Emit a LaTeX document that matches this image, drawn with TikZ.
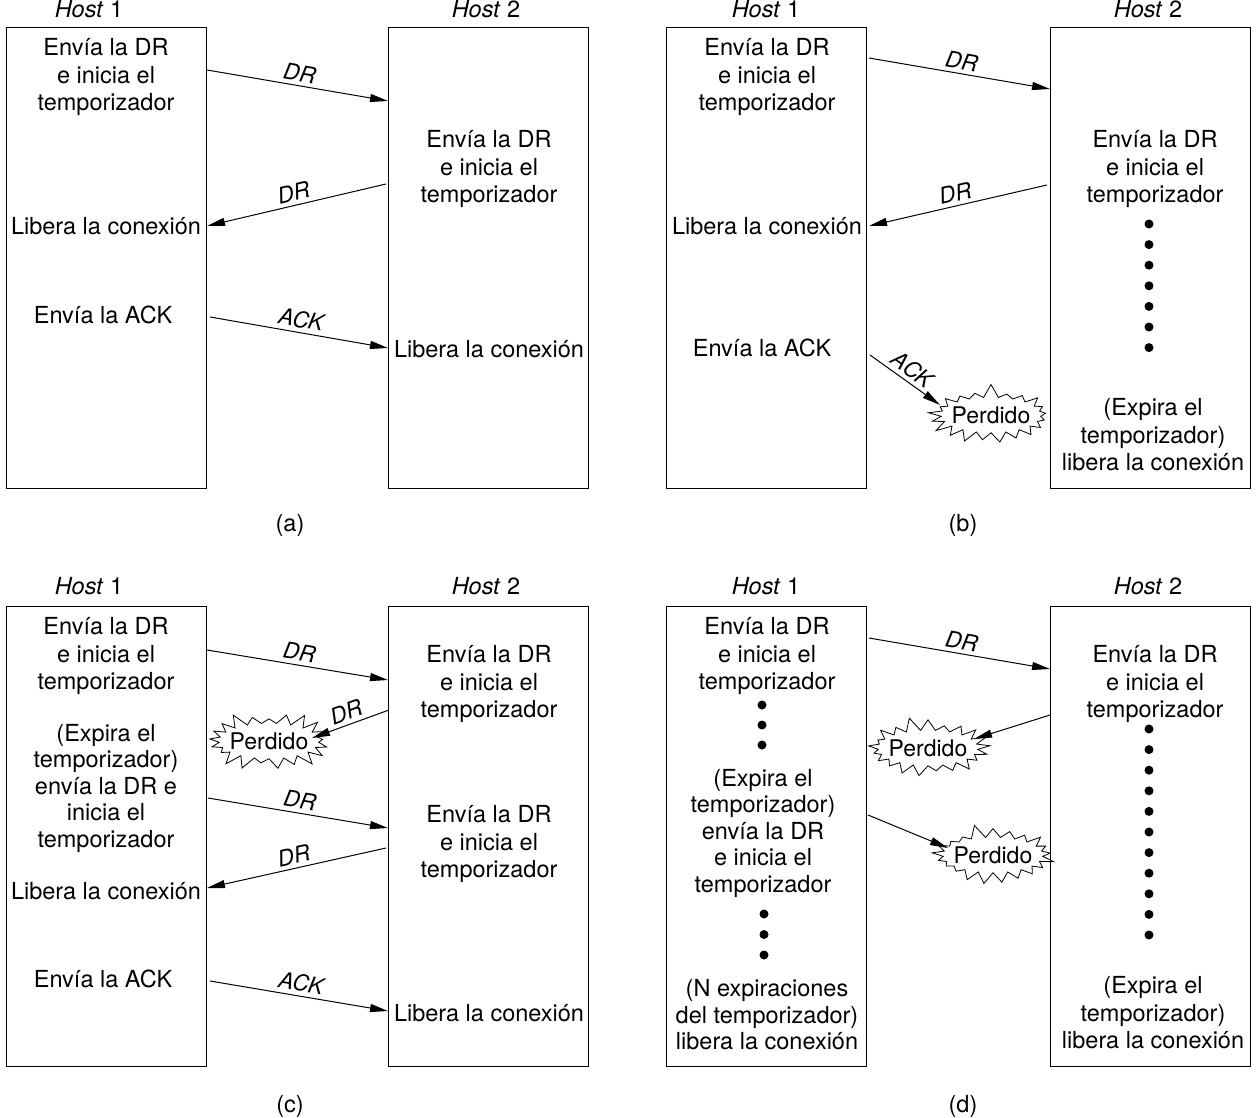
\documentclass[tikz,border=0pt]{standalone}
\usepackage{fontspec}
\setmainfont{TeX Gyre Heros}
\usetikzlibrary{arrows.meta,shapes.symbols}
\tikzset{
  host/.style={draw=black, line width=1pt, minimum width=200pt, minimum height=460pt, inner sep=0pt},
  msg/.style={draw=black, line width=1pt, -{Triangle[length=18pt,width=8pt]}},
  lab/.style={font=\fontsize{23.5}{27.5}\selectfont, align=center, inner sep=0pt, yshift=-2pt},
  tag/.style={font=\fontsize{22.5}{24}\selectfont\itshape, inner sep=4pt},
  lost/.style={starburst, draw=black, fill=white, line width=0.8pt, starburst points=21,
    starburst point height=14pt, random starburst=#1, inner xsep=-4pt, inner ysep=4pt,
    font=\fontsize{23}{24}\selectfont},
  dot/.style={circle, fill=black, inner sep=0pt, minimum size=9pt},
}
\begin{document}
\begin{tikzpicture}[x=1pt,y=-1pt]
  \useasboundingbox (0,0) rectangle (1258,1118);

  % (a)
  \node[host] (a1) at (106,258) {};
  \node[host] (a2) at (488.5,258) {};
  \node[lab] (a1h) at (89,7) {\textit{Host} 1};
  \node[lab] (a2h) at (486,7) {\textit{Host} 2};
  \node[lab] (a1t1) at (106,75) {Envía la DR\\e inicia el\\temporizador};
  \node[lab] (a1t2) at (106,224) {Libera la conexión};
  \node[lab] (a1t3) at (103,313) {Envía la ACK};
  \node[lab] (a2t1) at (489,167) {Envía la DR\\e inicia el\\temporizador};
  \node[lab] (a2t2) at (489,347) {Libera la conexión};
  \node[lab] (asub) at (290,523) {(a)};
  \coordinate (a1o1) at (207,70);  \coordinate (a2i1) at (388,101);
  \coordinate (a2o1) at (386,184); \coordinate (a1i1) at (207,226);
  \coordinate (a1o2) at (210,317); \coordinate (a2i2) at (388,348);
  \draw[msg] (a1o1) -- node[tag,sloped,above] {DR} (a2i1);
  \draw[msg] (a2o1) -- node[tag,sloped,above] {DR} (a1i1);
  \draw[msg] (a1o2) -- node[tag,sloped,above] {ACK} (a2i2);

  % (b)
  \node[host] (b1) at (766,258) {};
  \node[host] (b2) at (1150.5,258) {};
  \node[lab] (b1h) at (766,7) {\textit{Host} 1};
  \node[lab] (b2h) at (1148,7) {\textit{Host} 2};
  \node[lab] (b1t1) at (767,75) {Envía la DR\\e inicia el\\temporizador};
  \node[lab] (b1t2) at (767,224) {Libera la conexión};
  \node[lab] (b1t3) at (762,346) {Envía la ACK};
  \node[lab] (b2t1) at (1155,167) {Envía la DR\\e inicia el\\temporizador};
  \foreach \k in {0,...,6}
    \node[dot] (b2d\k) at (1149,224+20.6*\k) {};
  \node[lab] (b2t2) at (1153,433) {(Expira el\\temporizador)\\libera la conexión};
  \node[lab] (bsub) at (963,523) {(b)};
  \node[lost=7] (blost) at (991,415) {Perdido};
  \coordinate (b1o1) at (869,58);  \coordinate (b2i1) at (1050,89);
  \coordinate (b2o1) at (1047,185); \coordinate (b1i1) at (869,226);
  \coordinate (b1o2) at (870,355); \coordinate (blostin) at (940,405);
  \draw[msg] (b1o1) -- node[tag,sloped,above] {DR} (b2i1);
  \draw[msg] (b2o1) -- node[tag,sloped,above] {DR} (b1i1);
  \draw[msg] (b1o2) -- node[tag,sloped,above] {ACK} (blostin);

  % (c)
  \node[host] (c1) at (106,836.5) {};
  \node[host] (c2) at (488.5,836.5) {};
  \node[lab] (c1h) at (89,584) {\textit{Host} 1};
  \node[lab] (c2h) at (486,584) {\textit{Host} 2};
  \node[lab] (c1t1) at (106,654) {Envía la DR\\e inicia el\\temporizador};
  \node[lab, font=\fontsize{23.5}{26.5}\selectfont] (c1t2) at (106,786) {(Expira el\\temporizador)\\envía la DR e\\inicia el\\temporizador};
  \node[lab] (c1t3) at (106,889) {Libera la conexión};
  \node[lab] (c1t4) at (103,977) {Envía la ACK};
  \node[lab] (c2t1) at (489,682) {Envía la DR\\e inicia el\\temporizador};
  \node[lab] (c2t2) at (489,842) {Envía la DR\\e inicia el\\temporizador};
  \node[lab] (c2t3) at (489,1011) {Libera la conexión};
  \node[lab] (csub) at (290,1104) {(c)};
  \node[lost=3] (clost) at (269,741) {Perdido};
  \coordinate (c1o1) at (207,650);  \coordinate (c2i1) at (388,680);
  \coordinate (c2o1) at (389,710);  \coordinate (clostin) at (312,738);
  \coordinate (c1o2) at (208,798);  \coordinate (c2i2) at (388,828);
  \coordinate (c2o2) at (386,848);  \coordinate (c1i1) at (207,888);
  \coordinate (c1o3) at (210,981);  \coordinate (c2i3) at (388,1011);
  \draw[msg] (c1o1) -- node[tag,sloped,above] {DR} (c2i1);
  \draw[msg] (c2o1) -- node[tag,sloped,above] {DR} (clostin);
  \draw[msg] (c1o2) -- node[tag,sloped,above] {DR} (c2i2);
  \draw[msg] (c2o2) -- node[tag,sloped,above] {DR} (c1i1);
  \draw[msg] (c1o3) -- node[tag,sloped,above] {ACK} (c2i3);

  % (d)
  \node[host] (d1) at (766,836.5) {};
  \node[host] (d2) at (1150.5,836.5) {};
  \node[lab] (d1h) at (766,584) {\textit{Host} 1};
  \node[lab] (d2h) at (1148,584) {\textit{Host} 2};
  \node[lab] (d1t1) at (767,654) {Envía la DR\\e inicia el\\temporizador};
  \foreach \k in {0,1,2}
    \node[dot] (d1d\k) at (762,705+20*\k) {};
  \node[lab, font=\fontsize{23.5}{26.5}\selectfont] (d1t2) at (763,831) {(Expira el\\temporizador)\\envía la DR\\e inicia el\\temporizador};
  \foreach \k in {0,1,2}
    \node[dot] (d1e\k) at (764,914+20.5*\k) {};
  \node[lab, font=\fontsize{23.5}{26.5}\selectfont] (d1t3) at (767,1013) {(N expiraciones\\del temporizador)\\libera la conexión};
  \node[lab] (d2t1) at (1155,682) {Envía la DR\\e inicia el\\temporizador};
  \foreach \k in {0,...,10}
    \node[dot] (d2d\k) at (1149,729+20.6*\k) {};
  \node[lab] (d2t2) at (1153,1011) {(Expira el\\temporizador)\\libera la conexión};
  \node[lab] (dsub) at (963,1104) {(d)};
  \node[lost=11] (dlost1) at (928,748) {Perdido};
  \node[lost=5] (dlost2) at (993,855) {Perdido};
  \coordinate (d1o1) at (869,638);  \coordinate (d2i1) at (1050,669);
  \coordinate (d2o1) at (1050,715); \coordinate (dlostin1) at (974,739);
  \coordinate (d1o2) at (868,815);  \coordinate (dlostin2) at (948,848);
  \draw[msg] (d1o1) -- node[tag,sloped,above] {DR} (d2i1);
  \draw[msg] (d2o1) -- (dlostin1);
  \draw[msg] (d1o2) -- (dlostin2);
\end{tikzpicture}
\end{document}
